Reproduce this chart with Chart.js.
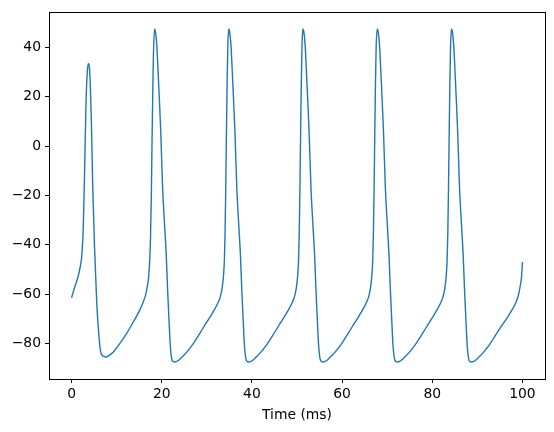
<!DOCTYPE html>
<html>
<head>
<meta charset="utf-8">
<script src="https://cdn.jsdelivr.net/npm/chart.js@4"></script>
<style>
  html, body { margin: 0; padding: 0; background: #fff; }
  #wrap { width: 554px; height: 432px; }
</style>
</head>
<body>
<div id="wrap"><canvas id="trace" width="554" height="432"></canvas></div>
<script>
// Membrane potential trace
const timeMs = [
  0, 0.7, 1.4, 1.9, 2.3, 2.6, 2.9, 3.2, 3.5, 3.75, 4.0, 4.4, 4.7, 5.1, 5.6, 6.1, 6.4, 6.9, 7.6, 8.3,
  9.2, 10.6, 12.1, 13.6, 15.1, 15.9, 16.4, 16.8, 17.1, 17.35, 17.5, 17.7, 17.85, 18.0, 18.15, 18.4,
  18.6, 18.9, 19.2, 19.5, 19.8, 20.2, 20.6, 21.0, 21.3, 21.6, 21.9, 22.2, 22.5, 22.9, 23.6, 24.5,
  25.6, 26.8, 28.2, 29.7, 30.9, 31.9, 32.6, 33.0, 33.4, 33.7, 33.9, 34.05, 34.2, 34.35, 34.5, 34.65, 34.85,
  35.05, 35.35, 35.65, 35.95, 36.25, 36.65, 37.05, 37.45, 37.75, 38.05, 38.35, 38.65, 38.95, 39.35, 40.05, 40.95,
  42.05, 43.25, 44.65, 46.15, 47.35, 48.35, 49.05, 49.45, 49.85, 50.15, 50.35, 50.5, 50.65, 50.8, 50.95, 51.1, 51.3,
  51.5, 51.8, 52.1, 52.4, 52.7, 53.1, 53.5, 53.9, 54.2, 54.5, 54.8, 55.1, 55.4, 55.8, 56.5, 57.4,
  58.5, 59.7, 61.1, 62.6, 63.8, 64.8, 65.5, 65.9, 66.3, 66.6, 66.8, 66.95, 67.1, 67.25, 67.4, 67.55, 67.8,
  68.0, 68.3, 68.6, 68.9, 69.2, 69.6, 70.0, 70.4, 70.7, 71.0, 71.3, 71.6, 71.9, 72.3, 73.0, 73.9,
  75.0, 76.2, 77.6, 79.1, 80.3, 81.3, 82.0, 82.4, 82.8, 83.1, 83.3, 83.45, 83.6, 83.75, 83.9, 84.05, 84.25,
  84.45, 84.75, 85.05, 85.35, 85.65, 86.05, 86.45, 86.85, 87.15, 87.45, 87.75, 88.05, 88.35, 88.75, 89.45, 90.35,
  91.45, 92.65, 94.05, 95.55, 96.75, 97.75, 98.45, 98.85, 99.25, 99.55, 99.8, 100
];
const voltageMv = [
  -61.5, -57.2, -53.2, -49.2, -43.8, -33, -10, 16.8, 30.3, 33.5, 31, 10, -16.8, -41, -64, -77.5, -82.8, -85, -85.5, -84.9,
  -83.6, -80.3, -76.3, -71.6, -66.6, -63.2, -60.5, -57, -53, -46, -38, -20, 2, 20, 36, 47.5,
  46.5, 41, 30, 18, 5, -17, -31, -44, -58, -70, -81, -86, -87.3, -87.5, -87, -85.5,
  -83.4, -80.6, -76.6, -72.2, -68.7, -65.6, -63.0, -61.0, -57.5, -52.5, -46, -35, -17, 5, 25, 40, 47.5,
  46.5, 41, 30, 18, 5, -17, -31, -44, -58, -70, -81, -86, -87.3, -87.5, -87, -85.5,
  -83.4, -80.6, -76.6, -72.2, -68.7, -65.6, -63.0, -61.0, -57.5, -52.5, -46, -35, -17, 5, 25, 40, 47.5,
  46.5, 41, 30, 18, 5, -17, -31, -44, -58, -70, -81, -86, -87.3, -87.5, -87, -85.5,
  -83.4, -80.6, -76.6, -72.2, -68.7, -65.6, -63.0, -61.0, -57.5, -52.5, -46, -35, -17, 5, 25, 40, 47.5,
  46.5, 41, 30, 18, 5, -17, -31, -44, -58, -70, -81, -86, -87.3, -87.5, -87, -85.5,
  -83.4, -80.6, -76.6, -72.2, -68.7, -65.6, -63.0, -61.0, -57.5, -52.5, -46, -35, -17, 5, 25, 40, 47.5,
  46.5, 41, 30, 18, 5, -17, -31, -44, -58, -70, -81, -86, -87.3, -87.5, -87, -85.5,
  -83.4, -80.6, -76.6, -72.4, -69.2, -66.2, -63.8, -62.0, -59.2, -56.2, -53, -47
];
const xTicks = [0, 20, 40, 60, 80, 100];
const yTicks = [-80, -60, -40, -20, 0, 20, 40];

const FONT = { family: "'DejaVu Sans', sans-serif", size: 13.9 };

// matplotlib-style box around the plot area
const frame = {
  id: "frame",
  afterDraw(chart) {
    const { ctx, chartArea: a } = chart;
    ctx.save();
    ctx.strokeStyle = "#000";
    ctx.lineWidth = 1;
    ctx.strokeRect(Math.round(a.left) + 0.5, Math.round(a.top) + 0.5,
      Math.round(a.right - a.left), Math.round(a.bottom - a.top));
    ctx.restore();
  }
};

const points = timeMs.map((t, i) => ({ x: t, y: voltageMv[i] }));

new Chart(document.getElementById("trace"), {
  type: "scatter",
  data: {
    datasets: [{
      data: points,
      showLine: true,
      borderColor: "#1f77b4",
      borderWidth: 1.4,
      pointRadius: 0,
      cubicInterpolationMode: "monotone"
    }]
  },
  options: {
    responsive: false,
    animation: false,
    layout: { padding: { top: 9, right: 9, left: 0, bottom: 0 } },
    plugins: { legend: { display: false }, tooltip: { enabled: false } },
    scales: {
      x: {
        type: "linear",
        min: -5,
        max: 105,
        afterBuildTicks: s => { s.ticks = xTicks.map(v => ({ value: v })); },
        afterFit: s => { s.height = 53; },
        grid: { display: true, drawOnChartArea: false, drawTicks: true, tickLength: 4, tickColor: "#000", tickWidth: 1 },
        border: { display: false },
        ticks: { color: "#000", font: FONT, padding: 3, maxRotation: 0 },
        title: { display: true, text: "Time (ms)", color: "#000", font: FONT, padding: { top: 0, bottom: 8 } }
      },
      y: {
        min: -94.4,
        max: 54.2,
        afterBuildTicks: s => { s.ticks = yTicks.map(v => ({ value: v })); },
        afterFit: s => { s.width = 49; },
        grid: { display: true, drawOnChartArea: false, drawTicks: true, tickLength: 4, tickColor: "#000", tickWidth: 1 },
        border: { display: false },
        ticks: {
          color: "#000", font: FONT, padding: 4,
          callback: v => String(v).replace("-", "\u2212")
        }
      }
    }
  },
  plugins: [frame]
});
</script>
</body>
</html>
